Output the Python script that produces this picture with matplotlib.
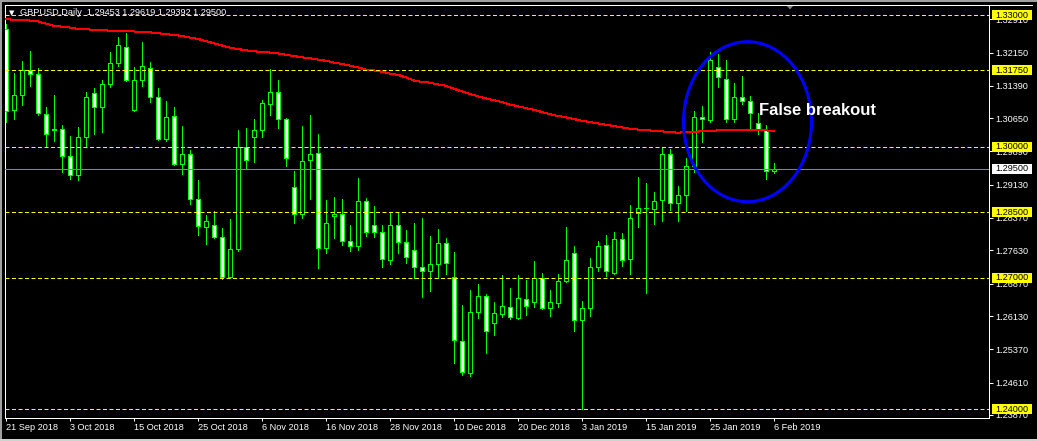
import matplotlib
matplotlib.use("Agg")
import matplotlib.pyplot as plt
from matplotlib.patches import Rectangle, Ellipse, Polygon
from matplotlib.transforms import IdentityTransform
import numpy as np

W, H, DPI = 1037, 441, 100

# ---------------- data ----------------
symbol_title = "GBPUSD,Daily  1.29453 1.29619 1.29392 1.29500"
date_tick_bars = [0, 8, 16, 24, 32, 40, 48, 56, 64, 72, 80, 88, 96]
date_tick_labels = ["21 Sep 2018", "3 Oct 2018", "15 Oct 2018", "25 Oct 2018",
                    "6 Nov 2018", "16 Nov 2018", "28 Nov 2018", "10 Dec 2018",
                    "20 Dec 2018", "3 Jan 2019", "15 Jan 2019", "25 Jan 2019",
                    "6 Feb 2019"]

opens = [1.3269, 1.3084, 1.3118, 1.3175, 1.3166, 1.3075, 1.3040, 1.3040, 1.2979, 1.2935,
         1.3022, 1.3123, 1.3091, 1.3143, 1.3190, 1.3228, 1.3084, 1.3152, 1.3180, 1.3114,
         1.3018, 1.3070, 1.2961, 1.2983, 1.2880, 1.2817, 1.2821, 1.2793, 1.2703, 1.2767,
         1.3000, 1.3022, 1.3038, 1.3097, 1.3124, 1.3063, 1.2908, 1.2847, 1.2970, 1.2986,
         1.2769, 1.2842, 1.2845, 1.2785, 1.2774, 1.2875, 1.2822, 1.2804, 1.2742, 1.2822,
         1.2783, 1.2763, 1.2724, 1.2715, 1.2733, 1.2779, 1.2702, 1.2557, 1.2484, 1.2623,
         1.2658, 1.2597, 1.2618, 1.2634, 1.2609, 1.2653, 1.2644, 1.2699, 1.2632, 1.2642,
         1.2693, 1.2756, 1.2603, 1.2632, 1.2724, 1.2776, 1.2712, 1.2788, 1.2744, 1.2849,
         1.2860, 1.2858, 1.2877, 1.2983, 1.2872, 1.2890, 1.2956, 1.3068, 1.3061, 1.3183,
         1.3155, 1.3063, 1.3113, 1.3104, 1.3054, 1.3037, 1.29453]
highs = [1.3279, 1.3168, 1.3196, 1.3219, 1.3180, 1.3091, 1.3117, 1.3050, 1.3025, 1.3044,
         1.3125, 1.3134, 1.3153, 1.3217, 1.3250, 1.3260, 1.3182, 1.3238, 1.3193, 1.3133,
         1.3105, 1.3091, 1.3046, 1.2993, 1.2923, 1.2843, 1.2853, 1.2815, 1.2834, 1.3037,
         1.3043, 1.3062, 1.3107, 1.3177, 1.3152, 1.3065, 1.2945, 1.3047, 1.3072, 1.3030,
         1.2877, 1.2884, 1.2881, 1.2820, 1.2928, 1.2882, 1.2864, 1.2820, 1.2849, 1.2849,
         1.2809, 1.2825, 1.2838, 1.2797, 1.2811, 1.2791, 1.2759, 1.2638, 1.2672, 1.2686,
         1.2663, 1.2646, 1.2706, 1.2678, 1.2706, 1.2696, 1.2738, 1.2712, 1.2673, 1.2708,
         1.2816, 1.2772, 1.2648, 1.2745, 1.2785, 1.2798, 1.2804, 1.2802, 1.2866, 1.2930,
         1.2916, 1.2896, 1.2999, 1.2994, 1.2911, 1.2975, 1.3081, 1.3093, 1.3217, 1.3211,
         1.3199, 1.3146, 1.3161, 1.3115, 1.3077, 1.3050, 1.29619]
lows = [1.3056, 1.3062, 1.3094, 1.3138, 1.3073, 1.3001, 1.3012, 1.2942, 1.2926, 1.2923,
        1.3002, 1.3029, 1.3033, 1.3136, 1.3184, 1.3149, 1.3082, 1.3138, 1.3101, 1.3015,
        1.3012, 1.2958, 1.2938, 1.2869, 1.2798, 1.2778, 1.2791, 1.2697, 1.2700, 1.2762,
        1.2952, 1.2965, 1.3022, 1.3072, 1.3043, 1.2956, 1.2826, 1.2837, 1.2881, 1.2723,
        1.2757, 1.2791, 1.2776, 1.2762, 1.2763, 1.2795, 1.2794, 1.2725, 1.2731, 1.2756,
        1.2734, 1.2699, 1.2657, 1.2670, 1.2699, 1.2710, 1.2506, 1.2478, 1.2476, 1.2609,
        1.2529, 1.2570, 1.2610, 1.2606, 1.2606, 1.2616, 1.2634, 1.2629, 1.2613, 1.2634,
        1.2691, 1.2579, 1.2400, 1.2613, 1.2715, 1.2704, 1.2708, 1.2728, 1.2710, 1.2817,
        1.2666, 1.2824, 1.2831, 1.2855, 1.2831, 1.2853, 1.2942, 1.3011, 1.3056, 1.3136,
        1.3056, 1.3056, 1.3097, 1.3043, 1.3029, 1.2925, 1.29392]
closes = [1.3082, 1.3118, 1.3175, 1.3166, 1.3077, 1.3029, 1.3039, 1.2979, 1.2935, 1.3022,
          1.3114, 1.3091, 1.3143, 1.3190, 1.3233, 1.3152, 1.3152, 1.3184, 1.3114, 1.3018,
          1.3068, 1.2961, 1.2983, 1.2881, 1.2819, 1.2831, 1.2793, 1.2703, 1.2767, 1.3000,
          1.2970, 1.3038, 1.3100, 1.3124, 1.3062, 1.2973, 1.2847, 1.2967, 1.2984, 1.2769,
          1.2826, 1.2847, 1.2785, 1.2774, 1.2875, 1.2806, 1.2804, 1.2744, 1.2822, 1.2783,
          1.2749, 1.2724, 1.2715, 1.2733, 1.2779, 1.2735, 1.2559, 1.2486, 1.2623, 1.2658,
          1.2580, 1.2619, 1.2635, 1.2610, 1.2655, 1.2635, 1.2699, 1.2632, 1.2644, 1.2693,
          1.2740, 1.2603, 1.2632, 1.2726, 1.2774, 1.2715, 1.2788, 1.2742, 1.2838, 1.2860,
          1.2859, 1.2876, 1.2983, 1.2872, 1.2890, 1.2956, 1.3068, 1.3062, 1.3197, 1.3158,
          1.3063, 1.3113, 1.3104, 1.3077, 1.3037, 1.2945, 1.29500]
ma200 = [1.3291, 1.3290, 1.3289, 1.3288, 1.3286, 1.3281, 1.3276, 1.3274, 1.3272, 1.3269,
         1.3268, 1.3267, 1.3266, 1.3265, 1.3265, 1.3264, 1.3263, 1.3262, 1.3261, 1.3259,
         1.3257, 1.3255, 1.3253, 1.3249, 1.3246, 1.3241, 1.3236, 1.3231, 1.3226, 1.3223,
         1.3220, 1.3218, 1.3216, 1.3215, 1.3213, 1.3210, 1.3207, 1.3204, 1.3202, 1.3199,
         1.3196, 1.3192, 1.3189, 1.3185, 1.3181, 1.3176, 1.3174, 1.3171, 1.3167, 1.3164,
         1.3158, 1.3151, 1.3148, 1.3146, 1.3142, 1.3139, 1.3132, 1.3126, 1.3120, 1.3115,
         1.3110, 1.3106, 1.3102, 1.3096, 1.3092, 1.3088, 1.3084, 1.3079, 1.3074, 1.3070,
         1.3067, 1.3063, 1.3059, 1.3056, 1.3053, 1.3050, 1.3047, 1.3044, 1.3041, 1.3039,
         1.3038, 1.3036, 1.3035, 1.3033, 1.3032, 1.3033, 1.3034, 1.3035, 1.3036, 1.3037,
         1.3037, 1.3038, 1.3038, 1.3038, 1.3038, 1.3037, 1.3036]
levels = [1.33000, 1.31750, 1.30000, 1.28500, 1.27000, 1.24000]
price_ticks = [1.32910, 1.32150, 1.31390, 1.30650, 1.29890, 1.29130, 1.28370,
               1.27630, 1.26870, 1.26130, 1.25370, 1.24610, 1.23870]
bid_price = 1.29500
annotation_text = "False breakout"

# ---------------- figure ----------------
plt.rcParams["font.family"] = ["Liberation Sans", "DejaVu Sans"]
FS = 6.6
fig = plt.figure(figsize=(W / DPI, H / DPI), dpi=DPI, facecolor="black")

L, R, T, B = 5, 989, 4.5, 418
ax = fig.add_axes([L / W, (H - B) / H, (R - L) / W, (B - T) / H])
ax.set_facecolor("black")
ax.set_xlim(-0.125, 122.875)
ax.set_ylim(1.238013, 1.332467)

for s in ax.spines.values():
    s.set_color("white")
    s.set_linewidth(0.72)

idx = np.arange(len(opens))
o = np.array(opens); c = np.array(closes)
hi = np.array(highs); lo = np.array(lows)
bear = c < o
faces = np.where(bear, "white", "black")
bottoms = np.minimum(o, c)
heights = np.maximum(np.abs(c - o), 0.00004)

LIME = "#00FF00"
ax.vlines(idx, lo, hi, color=LIME, linewidth=0.72, antialiased=False, zorder=2)
ax.bar(idx, heights, bottom=bottoms, width=0.48, color=list(faces),
       edgecolor=LIME, linewidth=0.72, antialiased=False, zorder=3)

ax.plot(idx, ma200, color="red", linewidth=0.72, antialiased=False, zorder=4)

for lv in levels:
    ax.axhline(lv, color="yellow", linewidth=0.72, linestyle=(0, (4, 2.5)), zorder=5)
ax.axhline(bid_price, color="#7a8899", linewidth=0.72, zorder=5)

# circle annotation
ax.add_patch(Ellipse((92.69, 1.30569), 16.0, 0.03655, fill=False,
                     edgecolor="#0000FF", linewidth=2.2, zorder=6))
ax.text(94.1, 1.30722, annotation_text, color="white", fontsize=12,
        fontweight="bold", ha="left", va="baseline", zorder=7)

# axes ticks
ax.yaxis.tick_right()
ax.set_yticks(price_ticks)
ax.set_yticklabels([f"{v:.5f}" for v in price_ticks])
ax.set_xticks(date_tick_bars)
ax.set_xticklabels(date_tick_labels)
for lbl in ax.get_xticklabels():
    lbl.set_ha("left")
ax.tick_params(axis="y", colors="white", labelsize=FS, direction="out",
               length=2.9, width=0.72, pad=1.4)
ax.tick_params(axis="x", colors="white", labelsize=FS, direction="out",
               length=2.2, width=0.72, pad=1.5)

fig.canvas.draw()

# price label boxes on the right axis
def label_box(price, text, face):
    yd = ax.transData.transform((0, price))[1]
    fig.add_artist(Rectangle((991.5, yd - 5), 40.5, 10, transform=IdentityTransform(),
                             facecolor=face, edgecolor="none", zorder=10))
    fig.text(995.5 / W, yd / H, text, color="black", fontsize=FS,
             ha="left", va="center", zorder=11)

for lv in levels:
    label_box(lv, f"{lv:.5f}", "yellow")
label_box(bid_price, f"{bid_price:.5f}", "white")

# top frame extension and window border
fig.add_artist(plt.Line2D([L / W, 1032 / W], [(H - T) / H, (H - T) / H],
                          transform=fig.transFigure, color="white", linewidth=0.72))
border = "#a0a0a0"
fig.add_artist(Rectangle((0, H - 1.7), W, 1.7, transform=IdentityTransform(),
                         facecolor=border, edgecolor="none"))
fig.add_artist(Rectangle((0, 0), 1.5, H, transform=IdentityTransform(),
                         facecolor=border, edgecolor="none"))
fig.add_artist(Rectangle((0, 0), W, 2.5, transform=IdentityTransform(),
                         facecolor="#d0d0d0", edgecolor="none"))

# chart-shift marker
fig.add_artist(Polygon([[786, H - 5], [794, H - 5], [790, H - 9.5]], closed=True,
                       transform=IdentityTransform(), facecolor="#808080",
                       edgecolor="none"))

# title
fig.text(9 / W, 1 - 12.8 / H, "\u25BC", color="white", fontsize=5,
         family="DejaVu Sans", ha="left", va="center")
fig.text(20 / W, 1 - 12.5 / H, symbol_title, color="white", fontsize=FS,
         ha="left", va="center")

fig.savefig("out.png", dpi=DPI, facecolor="black")
